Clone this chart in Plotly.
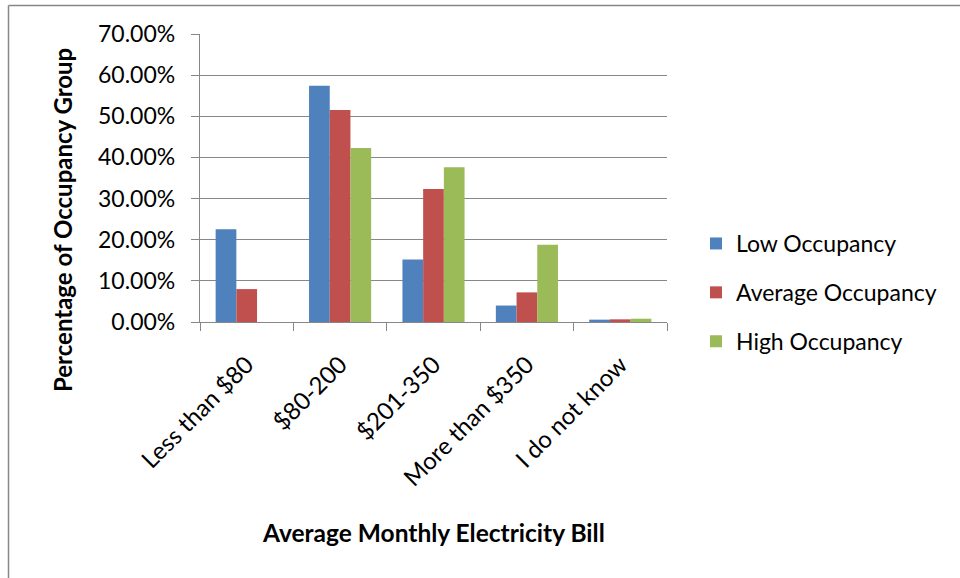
import plotly.graph_objects as go

# Survey: share of each occupancy group by average monthly electricity bill
categories = ["Less than $80", "$80-200", "$201-350", "More than $350", "I do not know"]
low_occupancy = [0.2257, 0.5740, 0.1520, 0.0400, 0.0057]
average_occupancy = [0.0800, 0.5150, 0.3230, 0.0720, 0.0065]
high_occupancy = [0.0, 0.4230, 0.3760, 0.1880, 0.0080]

series_names = ["Low Occupancy", "Average Occupancy", "High Occupancy"]
series_colors = ["#4F81BD", "#C0504D", "#9BBB59"]

FONT = "Lato"
GRID = "#878787"

W, H = 960, 578
L, R, T, B = 200, 293, 34, 256
plot_w = W - L - R
plot_h = H - T - B

fig = go.Figure()
for name, vals, col in zip(series_names, [low_occupancy, average_occupancy, high_occupancy], series_colors):
    fig.add_trace(go.Bar(
        x=categories, y=vals, name=name, legendgroup=name,
        marker=dict(color=col, line=dict(width=0)),
    ))

def px_x(px):
    return (px - L) / plot_w

def px_y(py):
    return (H - B - py) / plot_h

fig.update_layout(
    width=W, height=H,
    margin=dict(l=L, r=R, t=T, b=B),
    paper_bgcolor="white", plot_bgcolor="white",
    font=dict(family=FONT, size=23, color="#000000"),
    barmode="group", bargap=0.335, bargroupgap=0,
    showlegend=True,
    legend=dict(
        x=px_x(696), y=px_y(222), xanchor="left", yanchor="top",
        font=dict(family=FONT, size=23, color="#000000"),
        tracegroupgap=16, bgcolor="rgba(0,0,0,0)",
    ),
    xaxis=dict(
        type="category", tickson="boundaries", ticks="outside", ticklen=8,
        tickcolor=GRID, tickwidth=1.3, showline=True, linecolor=GRID, linewidth=1.3,
        showgrid=False, tickangle=-45, ticklabelstandoff=18,
        tickfont=dict(family=FONT, size=24),
    ),
    yaxis=dict(
        range=[0, 0.70], tickvals=[0, 0.1, 0.2, 0.3, 0.4, 0.5, 0.6, 0.7],
        tickformat=".2%", ticks="outside", ticklen=8, tickcolor=GRID, tickwidth=1.3,
        showline=True, linecolor=GRID, linewidth=1.3, showgrid=True,
        gridcolor=GRID, gridwidth=1.3, zeroline=False,
        ticklabelstandoff=11, tickfont=dict(family=FONT, size=23),
    ),
    annotations=[
        dict(text="<b>Percentage of Occupancy Group</b>", textangle=-90,
             xref="paper", yref="paper", x=px_x(63), y=px_y(220),
             xanchor="center", yanchor="middle", showarrow=False,
             font=dict(family=FONT, size=24)),
        dict(text="<b>Average Monthly Electricity Bill</b>",
             xref="paper", yref="paper", x=px_x(433), y=px_y(532),
             xanchor="center", yanchor="middle", showarrow=False,
             font=dict(family=FONT, size=24.5)),
    ],
    shapes=[
        dict(type="line", xref="paper", yref="paper",
             x0=px_x(8.5), x1=px_x(8.5), y0=px_y(5.5), y1=px_y(600),
             line=dict(color=GRID, width=1.5)),
        dict(type="line", xref="paper", yref="paper",
             x0=px_x(8.5), x1=px_x(1000), y0=px_y(5.5), y1=px_y(5.5),
             line=dict(color=GRID, width=1.5)),
    ],
)

fig.write_html("out.html")
